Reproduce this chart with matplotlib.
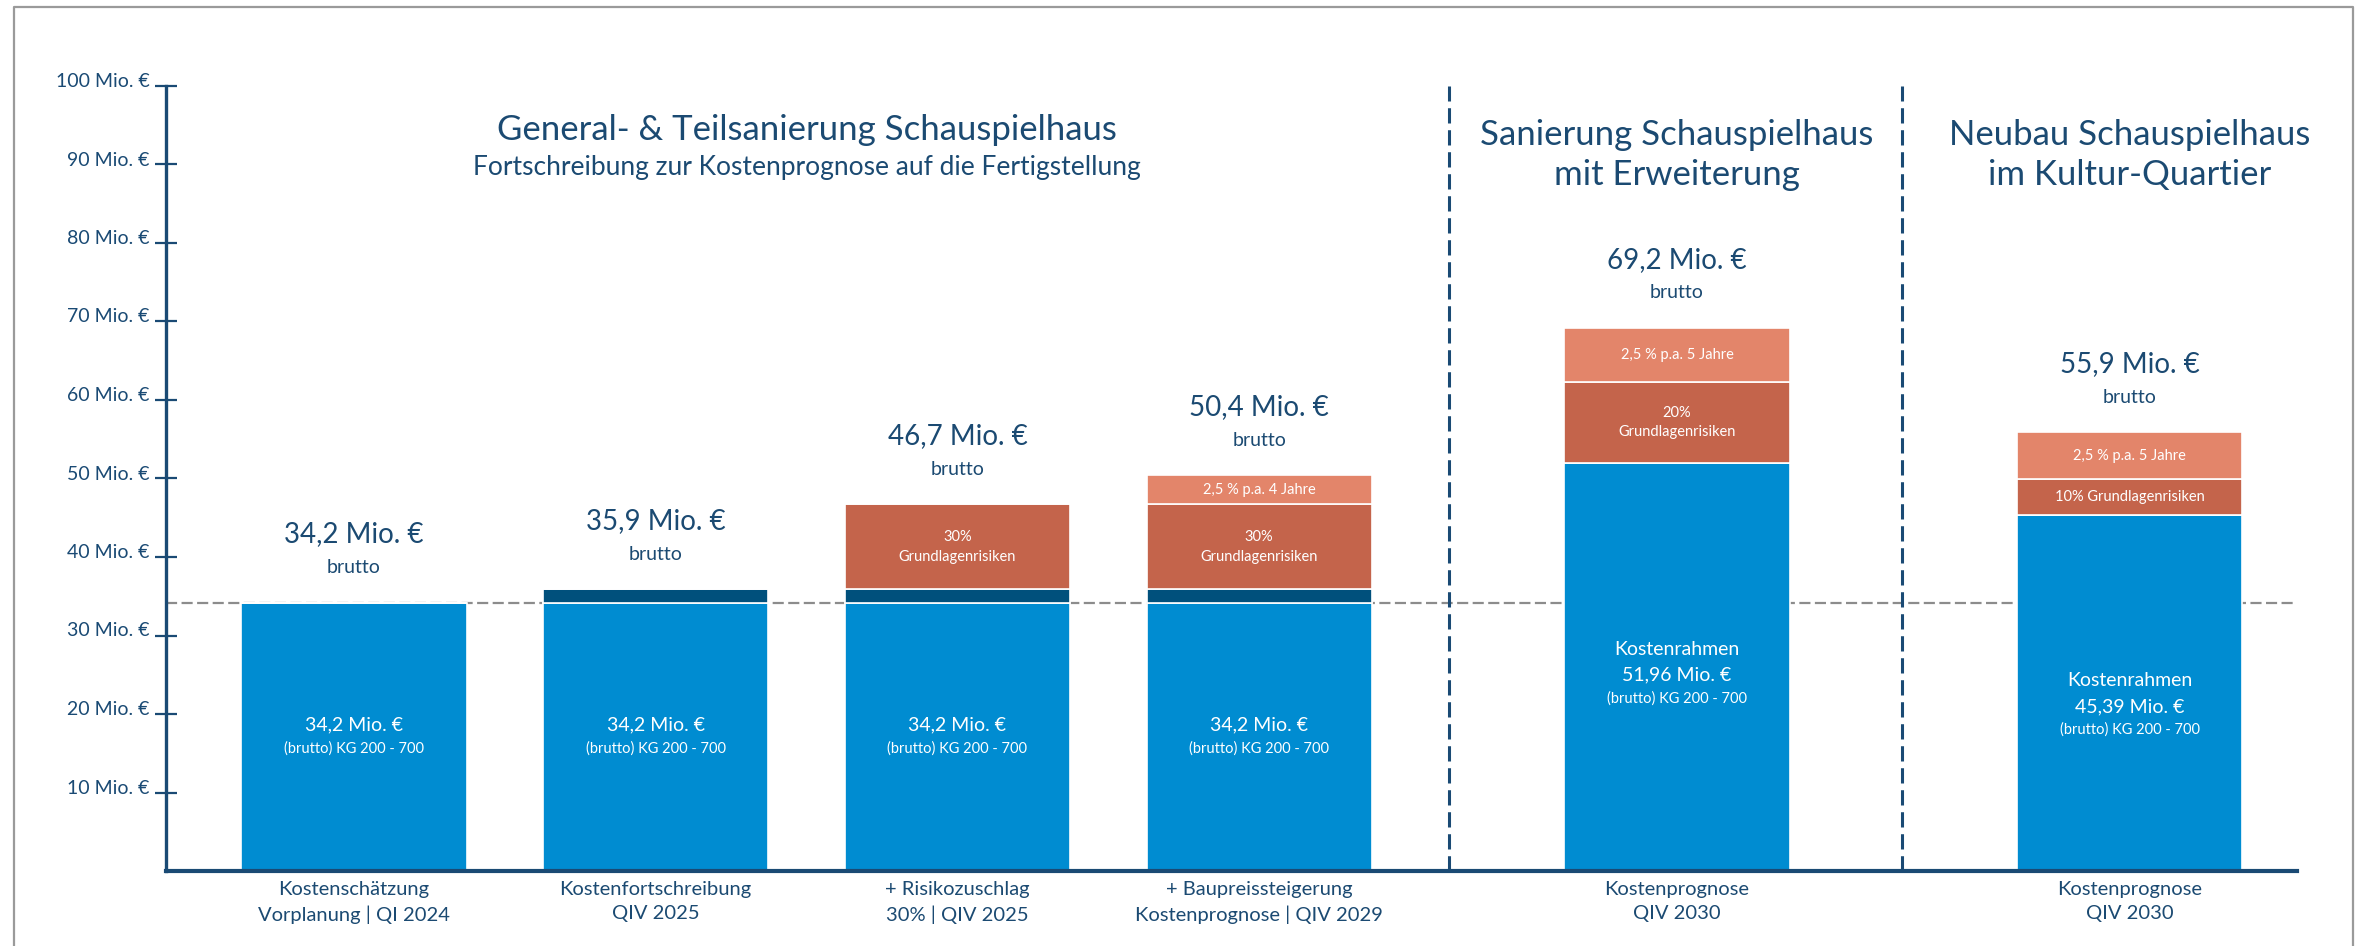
import matplotlib
matplotlib.use("Agg")
import matplotlib.pyplot as plt
from matplotlib.lines import Line2D
from matplotlib.transforms import ScaledTranslation

# Kostenentwicklung Schauspielhaus (Mio. € brutto)
categories = [
    "Kostenschätzung\nVorplanung | QI 2024",
    "Kostenfortschreibung\nQIV 2025",
    "+ Risikozuschlag\n30% | QIV 2025",
    "+ Baupreissteigerung\nKostenprognose | QIV 2029",
    "Kostenprognose\nQIV 2030",
    "Kostenprognose\nQIV 2030",
]
base = [34.2, 34.2, 34.2, 34.2, 51.96, 45.39]
update = [0, 1.7, 1.7, 1.7, 0, 0]
risk = [0, 0, 10.8, 10.8, 10.39, 4.54]
price = [0, 0, 0, 3.7, 6.85, 5.97]
totals = [34.2, 35.9, 46.7, 50.4, 69.2, 55.9]

risk_labels = ["", "", "30%\nGrundlagenrisiken", "30%\nGrundlagenrisiken",
               "20%\nGrundlagenrisiken", "10% Grundlagenrisiken"]
price_labels = ["", "", "", "2,5 % p.a. 4 Jahre", "2,5 % p.a. 5 Jahre",
                "2,5 % p.a. 5 Jahre"]
headers = [
    "General- & Teilsanierung Schauspielhaus",
    "Sanierung Schauspielhaus\nmit Erweiterung",
    "Neubau Schauspielhaus\nim Kultur-Quartier",
]
subtitle = "Fortschreibung zur Kostenprognose auf die Fertigstellung"
yticks = [10, 20, 30, 40, 50, 60, 70, 80, 90, 100]
ytick_labels = [f"{t} Mio. €" for t in yticks]

# layout
xpos = [0, 1, 2, 3, 4.385, 5.885]
header_x = [1.5, 4.385, 5.885]
separators = [3.63, 5.13]
bar_w = 0.746

BLUE = "#008CD1"
NAVY = "#00507C"
RED = "#C4644B"
SALMON = "#E3856A"
TEXT = "#1B4A72"
AXIS = "#1A4A74"


def de(v, nd=1):
    return f"{v:.{nd}f}".replace(".", ",")


plt.rcParams["font.family"] = ["Lato", "DejaVu Sans"]

fig = plt.figure(figsize=(23.62, 9.46), dpi=100)
ax = fig.add_axes([166 / 2362, 75 / 946, (2297 - 166) / 2362, (871 - 86) / 946])

# reference line at the first estimate
ax.axhline(base[0], color="#8C8C8C", lw=1.6, ls=(0, (5, 2)), zorder=1)

bottom = [0] * len(xpos)
for vals, col in [(base, BLUE), (update, NAVY), (risk, RED), (price, SALMON)]:
    ax.bar(xpos, vals, bar_w, bottom=bottom, color=col, edgecolor="white",
           linewidth=1.2, zorder=2)
    bottom = [b + v for b, v in zip(bottom, vals)]

# labels inside the blue part
for i, x in enumerate(xpos):
    mid = base[i] / 2
    if i < 4:
        ax.annotate(f"{de(base[i])} Mio. €", (x, mid), xytext=(0, 12),
                    textcoords="offset pixels", ha="center", va="center",
                    color="white", fontsize=14)
        ax.annotate("(brutto) KG 200 - 700", (x, mid), xytext=(0, -12),
                    textcoords="offset pixels", ha="center", va="center",
                    color="white", fontsize=10.5)
    else:
        shift = -8 if i == 4 else -14
        ax.annotate("Kostenrahmen", (x, mid), xytext=(0, 26 + shift),
                    textcoords="offset pixels", ha="center", va="center",
                    color="white", fontsize=14)
        ax.annotate(f"{de(base[i], 2)} Mio. €", (x, mid), xytext=(0, shift),
                    textcoords="offset pixels", ha="center", va="center",
                    color="white", fontsize=14)
        ax.annotate("(brutto) KG 200 - 700", (x, mid), xytext=(0, -23 + shift),
                    textcoords="offset pixels", ha="center", va="center",
                    color="white", fontsize=10.5)

# labels in the risk / price segments
for i, x in enumerate(xpos):
    lo = base[i] + update[i]
    if risk_labels[i]:
        ax.text(x, lo + risk[i] / 2, risk_labels[i], ha="center", va="center",
                color="white", fontsize=10.5, linespacing=1.5)
    if price_labels[i]:
        ax.text(x, lo + risk[i] + price[i] / 2, price_labels[i], ha="center",
                va="center", color="white", fontsize=10.5)

# totals above the bars
for x, t in zip(xpos, totals):
    ax.annotate(f"{de(t)} Mio. €", (x, t), xytext=(0, 68),
                textcoords="offset pixels", ha="center", va="center",
                color=TEXT, fontsize=20)
    ax.annotate("brutto", (x, t), xytext=(0, 35), textcoords="offset pixels",
                ha="center", va="center", color=TEXT, fontsize=14)

# category labels under the axis
for x, c in zip(xpos, categories):
    ax.annotate(c, (x, 0), xytext=(0, -10), textcoords="offset pixels",
                ha="center", va="top", color=TEXT, fontsize=14.5,
                linespacing=1.5, annotation_clip=False)

# section headers
ax.text(header_x[0], 94.4, headers[0], ha="center", va="center", color=TEXT,
        fontsize=25)
ax.text(header_x[0], 89.6, subtitle, ha="center", va="center", color=TEXT,
        fontsize=19)
for hx, h in zip(header_x[1:], headers[1:]):
    ax.text(hx, 91.2, h, ha="center", va="center", color=TEXT, fontsize=25,
            linespacing=1.3)

for sx in separators:
    ax.plot([sx, sx], [0, 100], color=AXIS, lw=2.2, ls=(0, (5, 2.2)),
            zorder=1)

# axes styling
ax.set_xlim(-0.623, 6.44)
ax.set_ylim(0, 100)
ax.set_xticks([])
ax.set_yticks(yticks)
ax.set_yticklabels(ytick_labels)
for s in ["top", "right"]:
    ax.spines[s].set_visible(False)
ax.spines["left"].set_color(AXIS)
ax.spines["left"].set_linewidth(2.4)
ax.spines["bottom"].set_color(AXIS)
ax.spines["bottom"].set_linewidth(3)
ax.spines["bottom"].set_zorder(3)
ax.tick_params(axis="y", direction="inout", length=16, width=1.6,
               color=AXIS, labelcolor=AXIS, labelsize=14, pad=4)
lift = ScaledTranslation(0, 6 / 100, fig.dpi_scale_trans)
for lab in ax.get_yticklabels():
    lab.set_transform(lab.get_transform() + lift)

# outer frame (open at the bottom)
fx0, fx1, fy = 14 / 2362, 2353 / 2362, 1 - 7 / 946
frame = Line2D([fx0, fx0, fx1, fx1], [0, fy, fy, 0], transform=fig.transFigure,
               color="#9A9A9A", lw=1.6)
fig.add_artist(frame)

fig.savefig("out.png", dpi=100, facecolor="white")
